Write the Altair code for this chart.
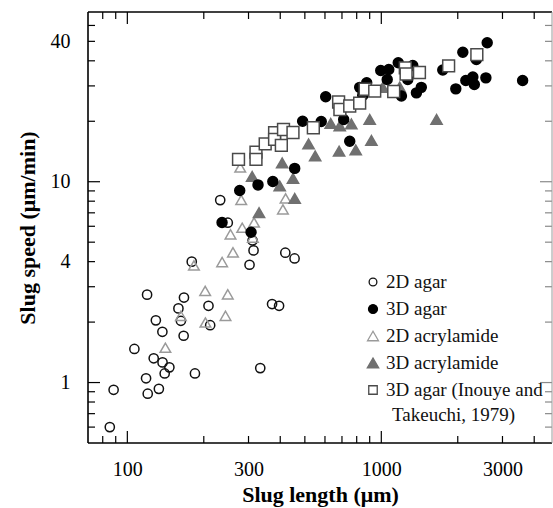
import altair as alt
import pandas as pd

# ---------------- data ----------------
series_names = ["2D agar", "3D agar", "2D acrylamide", "3D acrylamide",
                "3D agar (Inouye and Takeuchi, 1979)"]

agar2d_len = [85.3, 88.3, 106.6, 118.5, 120.3, 119.6, 127.0, 129.5, 133.1, 137.4,
              137.6, 140.3, 146.4, 158.9, 162.5, 167.1, 166.6, 179.3, 184.6, 208.7,
              211.9, 232.1, 248.6, 302.8, 314.0, 311.2, 333.7, 371.4, 395.8, 418.8, 455.5]
agar2d_speed = [0.60, 0.92, 1.47, 1.05, 0.88, 2.74, 1.32, 2.04, 0.93, 1.79,
                1.26, 1.11, 1.19, 2.34, 2.03, 2.65, 1.71, 4.0, 1.11, 2.41,
                1.93, 8.1, 6.25, 3.86, 4.55, 5.1, 1.18, 2.46, 2.41, 4.43, 4.15]

agar3d_len = [236, 277, 307, 327, 374, 456, 490, 580, 604, 711, 751, 822, 876, 845,
              995, 1070, 1166, 1330, 1055, 1271, 1200, 1375, 1437, 1746, 2094, 2367,
              2612, 1965, 2152, 2293, 2324, 2581, 3601]
agar3d_speed = [6.27, 9.05, 5.6, 9.64, 10.03, 11.65, 20.0, 19.95, 26.5, 20.4, 15.9,
                29.5, 31.1, 26.9, 35.8, 36.2, 39.1, 37.9, 32.3, 32.3, 26.7, 27.7,
                29.5, 36.0, 44.1, 40.6, 49.2, 29.0, 31.9, 33.2, 30.5, 32.9, 31.9]

acryl2d_len = [141.2, 162.5, 182.9, 202.5, 203, 236.2, 243.5, 248.6, 260.6, 254.8,
               283.4, 315.4, 312, 280.8, 278.3, 409.8, 419.8]
acryl2d_speed = [1.49, 2.15, 3.83, 2.86, 1.99, 3.98, 2.15, 2.75, 4.45, 5.47,
                 5.9, 6.27, 5.27, 8.12, 11.78, 7.28, 8.26]

acryl3d_len = [310, 330, 407, 398, 449, 456, 517, 549, 682, 793, 914, 900, 762,
               686, 632, 1013, 1182, 1650]
acryl3d_speed = [10.63, 7.01, 12.4, 9.53, 10.38, 8.26, 15.42, 13.44, 14.2, 14.4,
                 16.05, 20.42, 19.4, 18.95, 19.5, 29.46, 29.62, 20.42]

inouye_len = [274, 321, 321, 349, 380, 380, 412, 404, 449, 540, 679, 687, 751, 822,
              864, 942, 1119, 1243, 1252, 1413, 1841, 2378]
inouye_speed = [12.91, 14.04, 12.91, 15.42, 17.53, 16.24, 18.2, 15.16, 17.59, 18.57,
                24.95, 22.89, 23.83, 24.6, 28.88, 28.23, 28.14, 36.9, 34.38, 34.98,
                37.77, 42.98]

legend_lines = [["2D agar"], ["3D agar"], ["2D acrylamide"], ["3D acrylamide"],
                ["3D agar (Inouye and", "Takeuchi, 1979)"]]

x_label_values = [100, 300, 1000, 3000]
y_label_values = [1, 4, 10, 50]          # the top tick is printed "40" in the source figure
x_major_ticks = [100, 1000]
x_minor_ticks = [80, 90, 200, 300, 400, 500, 600, 700, 800, 900, 2000, 3000, 4000]
y_major_ticks = [1, 10]
y_minor_ticks = [0.6, 0.7, 0.8, 0.9, 2, 3, 4, 5, 6, 7, 8, 9, 20, 30, 40, 50, 60]

# ---------------- styles ----------------
STYLE = {
    "2D agar":       dict(shape="circle",      fill="transparent", stroke="#111111", size=85,  lsize=60),
    "3D agar":       dict(shape="circle",      fill="#000000",     stroke="#000000", size=140, lsize=80),
    "2D acrylamide": dict(shape="triangle-up", fill="transparent", stroke="#9a9a9a", size=185, lsize=120),
    "3D acrylamide": dict(shape="triangle-up", fill="#707070",     stroke="#707070", size=215, lsize=130),
    "3D agar (Inouye and Takeuchi, 1979)":
                     dict(shape="square",      fill="#ffffff",     stroke="#4a4a4a", size=100, lsize=72),
}

# ---------------- build table (drawing order = z-order) ----------------
rows = []
for name, xs, ys in [
    ("2D agar", agar2d_len, agar2d_speed),
    ("2D acrylamide", acryl2d_len, acryl2d_speed),
    ("3D acrylamide", acryl3d_len, acryl3d_speed),
    ("3D agar", agar3d_len, agar3d_speed),
    ("3D agar (Inouye and Takeuchi, 1979)", inouye_len, inouye_speed),
]:
    for a, b in zip(xs, ys):
        rows.append({"series": name, "length": a, "speed": b})
df = pd.DataFrame(rows)

W, H = 464, 431
XDOM = [70, 4700]
YDOM = [0.5, 70]
FONT = "Liberation Serif"

xscale = alt.Scale(type="log", domain=XDOM, nice=False)
yscale = alt.Scale(type="log", domain=YDOM, nice=False)


def sc(key):
    return alt.Scale(domain=series_names, range=[STYLE[s][key] for s in series_names])


points = alt.Chart(df).mark_point(opacity=1, strokeWidth=1.5).encode(
    x=alt.X("length:Q", scale=xscale,
            axis=alt.Axis(values=x_label_values, labelExpr="format(datum.value, 'd')",
                          title="Slug length (μm)", ticks=False, tickSize=0, domain=False,
                          grid=False, labelPadding=16, titlePadding=5,
                          labelFont=FONT, labelFontSize=20, labelColor="black",
                          titleFont=FONT, titleFontSize=22, titleFontWeight="bold",
                          titleColor="black")),
    y=alt.Y("speed:Q", scale=yscale,
            axis=alt.Axis(values=y_label_values,
                          labelExpr="datum.value == 50 ? '40' : format(datum.value, 'd')",
                          title="Slug speed (μm/min)", ticks=False, tickSize=0, domain=False,
                          grid=False, labelPadding=18, titlePadding=11,
                          labelFont=FONT, labelFontSize=20, labelColor="black",
                          titleFont=FONT, titleFontSize=22, titleFontWeight="bold",
                          titleColor="black")),
    shape=alt.Shape("series:N", scale=sc("shape"), legend=None),
    fill=alt.Fill("series:N", scale=sc("fill"), legend=None),
    stroke=alt.Stroke("series:N", scale=sc("stroke"), legend=None),
    size=alt.Size("series:N", scale=sc("size"), legend=None),
)

layers = []
# tick marks drawn inward on all four sides
for vals, length, side in [(x_major_ticks, 12, "bottom"), (x_minor_ticks, 7, "bottom"),
                           (x_major_ticks, 12, "top"), (x_minor_ticks, 7, "top")]:
    t = pd.DataFrame({"v": vals})
    if side == "bottom":
        enc = dict(y=alt.value(H), y2=alt.value(H - length))
    else:
        enc = dict(y=alt.value(0), y2=alt.value(length))
    layers.append(alt.Chart(t).mark_rule(color="black", strokeWidth=1.2).encode(
        x=alt.X("v:Q", scale=xscale), **enc))
for vals, length, side in [(y_major_ticks, 12, "left"), (y_minor_ticks, 7, "left"),
                           (y_major_ticks, 12, "right"), (y_minor_ticks, 7, "right")]:
    t = pd.DataFrame({"v": vals})
    if side == "left":
        enc = dict(x=alt.value(0), x2=alt.value(length))
        col = "black"
    else:
        enc = dict(x=alt.value(W), x2=alt.value(W - length))
        col = "#8a8a8a"
    layers.append(alt.Chart(t).mark_rule(color=col, strokeWidth=1.2).encode(
        y=alt.Y("v:Q", scale=yscale), **enc))

frame_df = pd.DataFrame({"k": [0]})
frame = [
    alt.Chart(frame_df).mark_rule(color="black", strokeWidth=1.6).encode(
        x=alt.value(0), x2=alt.value(W), y=alt.value(0)),
    alt.Chart(frame_df).mark_rule(color="black", strokeWidth=1.6).encode(
        x=alt.value(0), x2=alt.value(W), y=alt.value(H)),
    alt.Chart(frame_df).mark_rule(color="black", strokeWidth=1.6).encode(
        x=alt.value(0), y=alt.value(0), y2=alt.value(H)),
    alt.Chart(frame_df).mark_rule(color="#9a9a9a", strokeWidth=1.0).encode(
        x=alt.value(W), y=alt.value(0), y2=alt.value(H)),
]

# ---------------- legend (drawn inside the plot, lower right) ----------------
LEG_SYM_X, LEG_TXT_X, LEG_Y0, LEG_DY = 285, 298, 270, 27
legend_layers = []
for i, (name, lines) in enumerate(zip(series_names, legend_lines)):
    st = STYLE[name]
    yy = LEG_Y0 + i * LEG_DY
    ldf = pd.DataFrame({"k": [0]})
    legend_layers.append(alt.Chart(ldf).mark_point(
        shape=st["shape"], fill=st["fill"], stroke=st["stroke"], size=st["lsize"],
        strokeWidth=1.3, opacity=1).encode(x=alt.value(LEG_SYM_X), y=alt.value(yy)))
    for j, line in enumerate(lines):
        tdf = pd.DataFrame({"t": [line]})
        legend_layers.append(alt.Chart(tdf).mark_text(
            align="left", baseline="middle", font=FONT, fontSize=19, color="#111111").encode(
            text="t:N", x=alt.value(LEG_TXT_X + (6 if j else 0)), y=alt.value(yy + j * 25)))

chart = alt.layer(*layers, *frame, points, *legend_layers).properties(
    width=W, height=H,
    autosize=alt.AutoSizeParams(type="none"),
    padding={"left": 88, "top": 12, "right": 1, "bottom": 65},
).configure_view(stroke=None)

chart.save("out.html", embed_options={"renderer": "svg", "actions": False})
